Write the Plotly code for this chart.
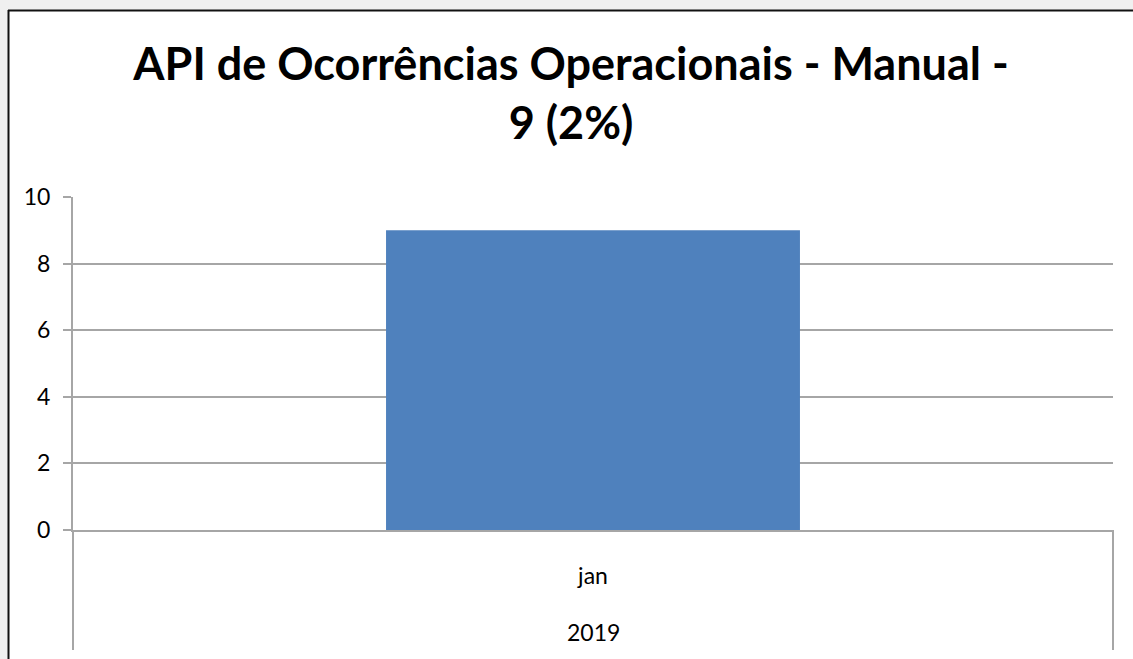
import plotly.graph_objects as go

years = ["2019"]
months = ["jan"]
values = [9]
y_ticks = [0, 2, 4, 6, 8, 10]
title_text = "API de Ocorrências Operacionais - Manual -<br>9 (2%)"

W, H = 1133, 659
ml, mr, mt, mb = 73, 20, 197, 129
pw = W - ml - mr
ph = H - mt - mb

def px_x(p):
    return (p - ml) / pw

def px_y(p):
    return (H - mb - p) / ph

fig = go.Figure()
fig.add_trace(go.Bar(
    x=months,
    y=values,
    marker=dict(color="#4F81BD", line=dict(width=0)),
))

grey = "#a6a6a6"
shapes = [
    dict(type="rect", xref="paper", yref="paper",
         x0=px_x(8), x1=px_x(W + 5), y0=px_y(H + 5), y1=px_y(10),
         fillcolor="white", line=dict(width=0), layer="below"),
    dict(type="line", xref="paper", yref="paper",
         x0=px_x(8), x1=px_x(W + 5), y0=px_y(10.5), y1=px_y(10.5),
         line=dict(color="#111111", width=2)),
    dict(type="line", xref="paper", yref="paper",
         x0=px_x(8.5), x1=px_x(8.5), y0=px_y(10), y1=px_y(H + 5),
         line=dict(color="#111111", width=2)),
    # category group dividers at the plot-area edges, below the axis
    dict(type="line", xref="x domain", yref="paper",
         x0=0, x1=0, y0=0, y1=px_y(650),
         line=dict(color=grey, width=2)),
    dict(type="line", xref="x domain", yref="paper",
         x0=1, x1=1, y0=0, y1=px_y(650),
         line=dict(color=grey, width=2)),
]

annotations = [
    dict(text=years[0], xref="x", x=months[0], yref="paper", y=px_y(632),
         xanchor="center", yanchor="middle", showarrow=False,
         font=dict(family="Lato", size=23, color="#000000")),
]

fig.update_layout(
    width=W, height=H,
    margin=dict(l=ml, r=mr, t=mt, b=mb, pad=0),
    paper_bgcolor="#f0f0f0",
    plot_bgcolor="white",
    showlegend=False,
    bargap=0.602,
    shapes=shapes,
    annotations=annotations,
    title=dict(
        text=title_text,
        font=dict(family="Lato", size=45, color="#000000", weight="bold"),
        x=571 / W, xanchor="center", xref="container",
        y=1 - 80 / H, yanchor="top", yref="container",
    ),
    font=dict(family="Lato", size=23, color="#000000"),
)

fig.update_yaxes(
    range=[0, 10], tickvals=y_ticks,
    showgrid=True, gridcolor=grey, gridwidth=2,
    showline=True, linecolor=grey, linewidth=2,
    ticks="outside", ticklen=8, tickcolor=grey, tickwidth=2,
    ticklabelstandoff=8,
    zeroline=False,
    tickfont=dict(family="Lato", size=23, color="#000000"),
)
fig.update_xaxes(
    type="category",
    showline=True, linecolor=grey, linewidth=2,
    ticks="", showgrid=False,
    ticklabelstandoff=24,
    tickfont=dict(family="Lato", size=23, color="#000000"),
)

fig.write_html(
    "out.html",
    config={"displayModeBar": False},
    post_script="document.body.style.margin='0';document.body.style.background='#f0f0f0';document.body.style.overflow='hidden';",
)
